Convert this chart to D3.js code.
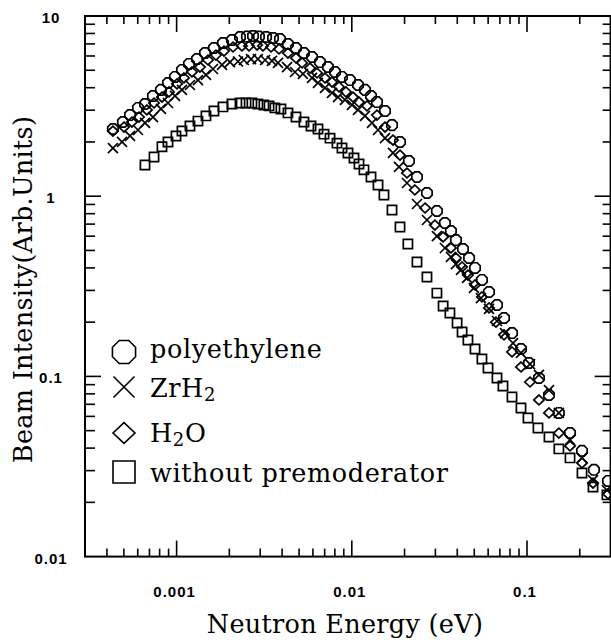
<!DOCTYPE html>
<html>
<head>
<meta charset="utf-8">
<script src="https://cdn.jsdelivr.net/npm/d3@7"></script>
<style>
  body { margin: 0; background: #fff; }
  svg { display: block; }
</style>
</head>
<body>
<div id="container"></div>
<script>
// neutron energy (eV) / beam intensity (arb. units)
const polyE = [4.33e-4, 4.94e-4, 5.42e-4, 6.02e-4, 6.60e-4, 7.33e-4, 8.14e-4, 8.93e-4, 9.79e-4, 1.073e-3,
  1.176e-3, 1.307e-3, 1.452e-3, 1.634e-3, 1.839e-3, 2.07e-3, 2.30e-3, 2.52e-3, 2.73e-3, 2.95e-3,
  3.24e-3, 3.55e-3, 3.89e-3, 4.32e-3, 4.80e-3, 5.33e-3, 5.93e-3, 6.58e-3, 7.31e-3, 8.02e-3,
  8.79e-3, 9.76e-3, 1.085e-2, 1.189e-2, 1.287e-2, 1.392e-2, 1.547e-2, 1.696e-2, 1.884e-2, 2.12e-2,
  2.355e-2, 2.685e-2, 3.06e-2, 3.40e-2, 3.68e-2, 3.93e-2, 4.31e-2, 4.67e-2, 5.05e-2, 5.53e-2,
  6.07e-2, 6.74e-2, 7.39e-2, 8.21e-2, 9.24e-2, 0.1026, 0.117, 0.1335, 0.152, 0.176,
  0.206, 0.241, 0.290];
const polyI = [2.36, 2.58, 2.82, 3.09, 3.25, 3.60, 3.89, 4.25, 4.59, 5.02,
  5.42, 5.77, 6.23, 6.64, 7.08, 7.36, 7.65, 7.69, 7.74, 7.69,
  7.65, 7.55, 7.45, 6.99, 6.64, 6.23, 5.92, 5.55, 5.21, 4.89,
  4.59, 4.41, 4.14, 3.89, 3.60, 3.33, 2.97, 2.48, 2.00, 1.568,
  1.278, 1.042, 0.828, 0.710, 0.641, 0.571, 0.509, 0.454, 0.400, 0.343,
  0.294, 0.249, 0.211, 0.174, 0.142, 0.1187, 0.098, 0.0789, 0.0627, 0.0485,
  0.0386, 0.0303, 0.0263];

const zrhE = [4.33e-4, 4.88e-4, 5.42e-4, 6.02e-4, 6.60e-4, 7.33e-4, 8.14e-4, 8.93e-4, 9.79e-4, 1.073e-3,
  1.192e-3, 1.324e-3, 1.471e-3, 1.613e-3, 1.816e-3, 2.017e-3, 2.24e-3, 2.42e-3, 2.66e-3, 2.91e-3,
  3.20e-3, 3.50e-3, 3.79e-3, 4.27e-3, 4.74e-3, 5.26e-3, 5.93e-3, 6.41e-3, 7.03e-3, 7.71e-3,
  8.34e-3, 9.14e-3, 1.002e-2, 1.085e-2, 1.189e-2, 1.304e-2, 1.411e-2, 1.547e-2, 1.718e-2, 1.859e-2,
  2.065e-2, 2.355e-2, 2.685e-2, 3.06e-2, 3.40e-2, 3.68e-2, 3.93e-2, 4.20e-2, 4.55e-2, 4.98e-2,
  5.46e-2, 6.07e-2, 6.74e-2, 7.49e-2, 8.32e-2, 9.24e-2, 0.104, 0.117, 0.1335, 0.152,
  0.176, 0.206, 0.238, 0.286];
const zrhI = [1.85, 2.00, 2.16, 2.33, 2.55, 2.75, 3.05, 3.29, 3.60, 3.89,
  4.14, 4.41, 4.71, 5.08, 5.35, 5.55, 5.59, 5.70, 5.77, 5.77,
  5.70, 5.63, 5.49, 5.21, 4.89, 4.77, 4.53, 4.25, 3.99, 3.74,
  3.55, 3.42, 3.21, 3.01, 2.79, 2.55, 2.33, 2.10, 1.738, 1.453,
  1.184, 0.905, 0.738, 0.601, 0.516, 0.460, 0.420, 0.390, 0.352, 0.310,
  0.272, 0.237, 0.203, 0.174, 0.153, 0.135, 0.117, 0.102, 0.084, 0.0627,
  0.0444, 0.0353, 0.0266, 0.0234];

const waterE = [4.33e-4, 5.01e-4, 5.56e-4, 6.10e-4, 6.77e-4, 7.43e-4, 8.25e-4, 9.05e-4, 1.005e-3, 1.102e-3,
  1.224e-3, 1.359e-3, 1.510e-3, 1.677e-3, 1.864e-3, 2.10e-3, 2.36e-3, 2.59e-3, 2.88e-3, 3.11e-3,
  3.46e-3, 3.84e-3, 4.32e-3, 4.80e-3, 5.20e-3, 5.77e-3, 6.33e-3, 7.03e-3, 7.71e-3, 8.45e-3,
  9.26e-3, 1.016e-2, 1.099e-2, 1.221e-2, 1.392e-2, 1.547e-2, 1.718e-2, 1.884e-2, 2.065e-2, 2.29e-2,
  2.62e-2, 2.98e-2, 3.32e-2, 3.68e-2, 3.93e-2, 4.26e-2, 4.60e-2, 5.05e-2, 5.53e-2, 6.07e-2,
  6.65e-2, 7.39e-2, 8.21e-2, 9.24e-2, 0.104, 0.117, 0.1335, 0.152, 0.176, 0.206,
  0.238, 0.290];
const waterI = [2.30, 2.42, 2.58, 2.75, 3.01, 3.29, 3.55, 3.79, 4.20, 4.53,
  4.89, 5.21, 5.70, 6.07, 6.39, 6.73, 6.82, 6.82, 6.90, 6.82,
  6.73, 6.56, 6.23, 5.85, 5.49, 5.14, 4.83, 4.53, 4.30, 4.04,
  3.79, 3.55, 3.33, 3.17, 2.82, 2.42, 2.05, 1.69, 1.345, 1.083,
  0.860, 0.692, 0.594, 0.516, 0.454, 0.405, 0.365, 0.322, 0.276, 0.240,
  0.200, 0.170, 0.1367, 0.1128, 0.0931, 0.0740, 0.0627, 0.0485, 0.0411, 0.0331,
  0.0256, 0.0223];

const bareE = [6.60e-4, 7.43e-4, 8.25e-4, 8.93e-4, 9.92e-4, 1.073e-3, 1.192e-3, 1.324e-3, 1.471e-3, 1.634e-3,
  1.839e-3, 2.07e-3, 2.30e-3, 2.49e-3, 2.69e-3, 2.91e-3, 3.15e-3, 3.37e-3, 3.64e-3, 3.94e-3,
  4.32e-3, 4.80e-3, 5.33e-3, 5.85e-3, 6.41e-3, 6.94e-3, 7.51e-3, 8.23e-3, 8.79e-3, 9.51e-3,
  1.029e-2, 1.099e-2, 1.173e-2, 1.287e-2, 1.411e-2, 1.526e-2, 1.696e-2, 1.884e-2, 2.09e-2, 2.355e-2,
  2.685e-2, 3.06e-2, 3.32e-2, 3.63e-2, 3.99e-2, 4.26e-2, 4.60e-2, 5.05e-2, 5.53e-2, 5.99e-2,
  6.74e-2, 7.29e-2, 8.21e-2, 9.24e-2, 0.1013, 0.1155, 0.1335, 0.152, 0.176, 0.206,
  0.238, 0.286];
const bareI = [1.49, 1.65, 1.88, 2.00, 2.16, 2.30, 2.45, 2.61, 2.79, 2.97,
  3.13, 3.25, 3.29, 3.29, 3.29, 3.25, 3.21, 3.17, 3.09, 3.05,
  2.90, 2.75, 2.58, 2.45, 2.36, 2.21, 2.10, 1.97, 1.85, 1.738,
  1.63, 1.51, 1.40, 1.278, 1.154, 1.016, 0.839, 0.675, 0.543, 0.431,
  0.356, 0.290, 0.246, 0.225, 0.198, 0.1764, 0.1593, 0.142, 0.125, 0.1114,
  0.098, 0.0885, 0.0769, 0.0668, 0.0588, 0.0517, 0.0461, 0.0396, 0.0353, 0.0291,
  0.0243, 0.0220];

const xTickValues = [0.001, 0.01, 0.1];
const xTickLabels = ["0.001", "0.01", "0.1"];
const yTickValues = [0.01, 0.1, 1, 10];
const yTickLabels = ["0.01", "0.1", "1", "10"];

const series = [
  {name: "polyethylene", shape: "octagon", e: polyE, v: polyI},
  {name: "ZrH2", shape: "cross", e: zrhE, v: zrhI},
  {name: "H2O", shape: "diamond", e: waterE, v: waterI},
  {name: "without premoderator", shape: "square", e: bareE, v: bareI}
];

const width = 611, height = 643;
const plotLeft = 85, plotRight = 610.6, plotTop = 16, plotBottom = 556.6;

const x = d3.scaleLog().domain([3e-4, 0.3]).range([plotLeft, plotRight]);
const y = d3.scaleLog().domain([0.01, 10]).range([plotBottom, plotTop]);

function shapePath(shape, r) {
  const p = d3.path();
  if (shape == "octagon") {
    for (let i = 0; i < 8; i++) {
      const a = Math.PI / 8 + i * Math.PI / 4;
      if (i == 0) p.moveTo(r * Math.cos(a), r * Math.sin(a));
      else p.lineTo(r * Math.cos(a), r * Math.sin(a));
    }
    p.closePath();
  } else if (shape == "cross") {
    p.moveTo(-r, -r); p.lineTo(r, r);
    p.moveTo(-r, r); p.lineTo(r, -r);
  } else if (shape == "diamond") {
    p.moveTo(0, -r * 0.95); p.lineTo(r, 0); p.lineTo(0, r * 0.95); p.lineTo(-r, 0);
    p.closePath();
  } else {
    p.rect(-r, -r, 2 * r, 2 * r);
  }
  return p.toString();
}
const markerSize = {octagon: 5.6, cross: 5, diamond: 5.2, square: 4.6};

const svg = d3.select("#container").append("svg")
  .attr("width", width)
  .attr("height", height);

// ticks on all four sides, pointing inwards
const xt = x.ticks().filter(d => d > 3.01e-4 && d < 0.299);
const yt = y.ticks().filter(d => d > 0.0101 && d < 9.9);
const isMajor = d => Math.abs(Math.log10(d) - Math.round(Math.log10(d))) < 1e-6;

const ticks = svg.append("g")
  .attr("stroke", "#000")
  .attr("stroke-width", 1.6);

ticks.append("g").selectAll("line")
  .data(xt)
  .join("line")
  .attr("x1", d => x(d)).attr("x2", d => x(d))
  .attr("y1", plotBottom).attr("y2", d => plotBottom - (isMajor(d) ? 16 : 8));
ticks.append("g").selectAll("line")
  .data(xt)
  .join("line")
  .attr("x1", d => x(d)).attr("x2", d => x(d))
  .attr("y1", plotTop).attr("y2", d => plotTop + (isMajor(d) ? 16 : 8));
ticks.append("g").selectAll("line")
  .data(yt)
  .join("line")
  .attr("y1", d => y(d)).attr("y2", d => y(d))
  .attr("x1", plotLeft).attr("x2", d => plotLeft + (isMajor(d) ? 16 : 10));
ticks.append("g").selectAll("line")
  .data(yt)
  .join("line")
  .attr("y1", d => y(d)).attr("y2", d => y(d))
  .attr("x1", plotRight).attr("x2", d => plotRight - (isMajor(d) ? 16 : 8));

svg.append("rect")
  .attr("x", plotLeft).attr("y", plotTop)
  .attr("width", plotRight - plotLeft).attr("height", plotBottom - plotTop)
  .attr("fill", "none")
  .attr("stroke", "#000")
  .attr("stroke-width", 2);

// tick labels
svg.append("g")
  .selectAll("text")
  .data(xTickValues)
  .join("text")
  .attr("x", d => x(d) - 2)
  .attr("y", 597)
  .attr("text-anchor", "middle")
  .attr("font-family", "Liberation Sans, Arial, sans-serif")
  .attr("font-weight", "bold")
  .attr("font-size", 15)
  .attr("letter-spacing", 1)
  .text((d, i) => xTickLabels[i]);

svg.append("g")
  .selectAll("text")
  .data(yTickValues)
  .join("text")
  .attr("x", 51)
  .attr("y", d => y(d) + 7)
  .attr("text-anchor", "middle")
  .attr("font-family", "Liberation Sans, Arial, sans-serif")
  .attr("font-weight", "bold")
  .attr("font-size", 15)
  .attr("letter-spacing", 1)
  .text((d, i) => yTickLabels[i]);

// axis titles
const titleFont = "DejaVu Serif, serif";
svg.append("text")
  .attr("x", 345)
  .attr("y", 633)
  .attr("text-anchor", "middle")
  .attr("font-family", titleFont)
  .attr("font-size", 25.5)
  .attr("letter-spacing", 0.3)
  .text("Neutron Energy (eV)");

svg.append("text")
  .attr("transform", "translate(32,289.5) rotate(-90)")
  .attr("text-anchor", "middle")
  .attr("font-family", titleFont)
  .attr("font-size", 25.5)
  .attr("letter-spacing", 0.3)
  .text("Beam Intensity(Arb.Units)");

// data points
series.forEach(s => {
  svg.append("g")
    .attr("fill", "none")
    .attr("stroke", "#000")
    .attr("stroke-width", 1.7)
    .selectAll("path")
    .data(s.e.map((e, i) => [e, s.v[i]]))
    .join("path")
    .attr("transform", d => `translate(${x(d[0])},${y(d[1])})`)
    .attr("d", shapePath(s.shape, markerSize[s.shape]));
});

// legend
const legendY = [352, 387, 433, 472];
const legendBase = [358, 397, 442, 482];
const legendR = {octagon: 12.5, cross: 10.5, diamond: 11, square: 11};
const legend = svg.append("g");
series.forEach((s, i) => {
  legend.append("path")
    .attr("transform", `translate(124,${legendY[i]})`)
    .attr("d", shapePath(s.shape, legendR[s.shape]))
    .attr("fill", "none")
    .attr("stroke", "#000")
    .attr("stroke-width", 1.6);
  const t = legend.append("text")
    .attr("x", 150)
    .attr("y", legendBase[i])
    .attr("font-family", titleFont)
    .attr("font-size", 25.5)
    .attr("letter-spacing", 0.6);
  if (s.name == "ZrH2") {
    t.append("tspan").text("ZrH");
    t.append("tspan").attr("font-size", 18).attr("dy", 4).text("2");
  } else if (s.name == "H2O") {
    t.append("tspan").text("H");
    t.append("tspan").attr("font-size", 18).attr("dy", 4).text("2");
    t.append("tspan").attr("dy", -4).text("O");
  } else {
    t.text(s.name);
  }
});
</script>
</body>
</html>
